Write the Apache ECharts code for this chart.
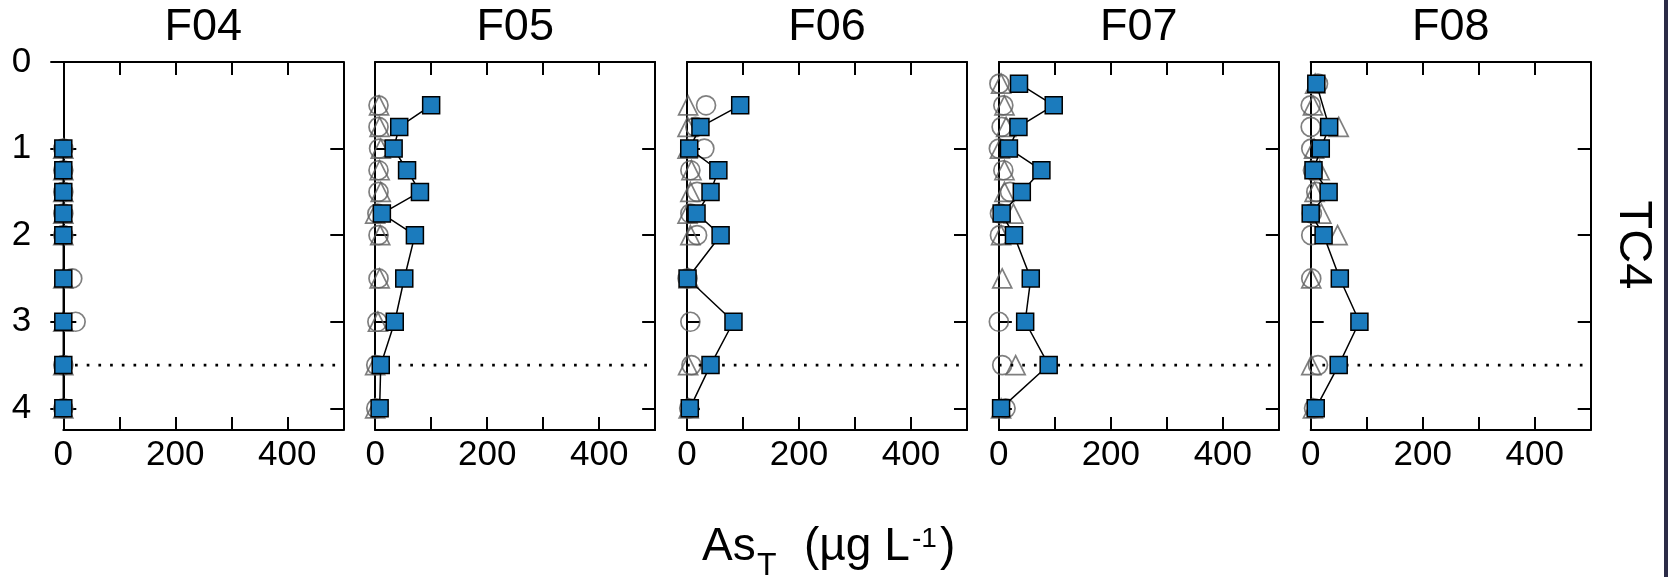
<!DOCTYPE html>
<html><head><meta charset="utf-8">
<script src="https://cdn.jsdelivr.net/npm/echarts@6/dist/echarts.min.js"></script>
<style>html,body{margin:0;padding:0;background:#fff}#c{width:1668px;height:577px}</style>
</head><body><div id="c"></div>
<script>
// ---- data ----
const panels = ['F04', 'F05', 'F06', 'F07', 'F08'];
const depths = [0.25, 0.5, 0.75, 1, 1.25, 1.5, 1.75, 2, 2.5, 3, 3.5, 4];

const squaresF04 = [null, null, null, 0, 0, 0, 0, 0, 0, 0, 0, 0];
const squaresF05 = [null, 100, 43, 33, 57, 80, 12, 71, 52, 35, 10, 8];
const squaresF06 = [null, 95, 24, 4, 56, 42, 17, 60, 1, 83, 42, 5];
const squaresF07 = [36, 98, 35, 18, 76, 41, 5, 27, 57, 47, 89, 4];
const squaresF08 = [10, null, 33, 18, 5, 32, 0, 23, 52, 87, 50, 9];

const circlesF04 = [null, null, null, 0, 0, 0, 0, 0, 16, 22, 0, 0];
const circlesF05 = [null, 6, 6, 7, 6, 6, 4, 6, 6, 4, 2, 2];
const circlesF06 = [null, 34, 15, 31, 6, 18, 6, 18, 1, 6, 8, 4];
const circlesF07 = [1, 8, 5, 0, 8, 20, 2, 2, null, 0, 6, 12];
const circlesF08 = [13, 0, 0, 1, 4, 10, 2, 1, 1, null, 13, 6];

const trianglesF04 = [null, null, null, 0, 0, 0, 0, 0, 0, 0, 0, 0];
const trianglesF05 = [null, 7, 8, 10, 8, 10, 0, 9, 8, 5, 0, 0];
const trianglesF06 = [null, 2, 1, 1, 8, 6, 1, 6, 3, null, 2, 3];
const trianglesF07 = [4, 10, 13, 2, 10, 10, 26, 4, 6, null, 30, 4];
const trianglesF08 = [8, 4, 50, 6, 16, 7, 19, 48, 1, null, 1, 4];

const squares = [squaresF04, squaresF05, squaresF06, squaresF07, squaresF08];
const circles = [circlesF04, circlesF05, circlesF06, circlesF07, circlesF08];
const triangles = [trianglesF04, trianglesF05, trianglesF06, trianglesF07, trianglesF08];

const xTickLabels = [0, 200, 400];
const yTickLabels = [0, 1, 2, 3, 4];
const xMin = 0, xMax = 500, xStep = 100;
const yMin = 0, yMax = 4.25;
const refDepth = 3.5;
const rowLabel = 'TC4';

// ---- layout ----
const FONT = "'Liberation Sans', Arial, Helvetica, sans-serif";
const L0 = 63.3, STEP = 311.85, GW = 280, GT = 62, GH = 368;
const BLUE = '#1b7bbd', GREY = '#5f5f5f';

function pairs(vals) {
  const out = [];
  vals.forEach((v, i) => { if (v !== null) out.push([v, depths[i]]); });
  return out;
}

const grid = [], xAxis = [], yAxis = [], series = [], graphic = [];
const lineBlack = { color: '#000', width: 2 };

panels.forEach((name, i) => {
  const left = L0 + i * STEP;
  grid.push({ left: left, top: GT, width: GW, height: GH, containLabel: false });
  const xBase = {
    gridIndex: i, type: 'value', min: xMin, max: xMax, interval: xStep,
    axisLine: { show: true, onZero: false, lineStyle: lineBlack },
    axisTick: { show: true, inside: true, length: 13, lineStyle: lineBlack },
    splitLine: { show: false }
  };
  xAxis.push(Object.assign({}, xBase, {
    position: 'bottom',
    axisLabel: { show: true, customValues: xTickLabels, fontSize: 35, color: '#000', margin: 8, fontFamily: FONT }
  }));
  xAxis.push(Object.assign({}, xBase, { position: 'top', axisLabel: { show: false } }));
  const yBase = {
    gridIndex: i, type: 'value', inverse: true, min: yMin, max: yMax, interval: 1,
    axisLine: { show: true, onZero: false, lineStyle: lineBlack },
    axisTick: { show: true, inside: true, length: 13, customValues: yTickLabels, lineStyle: lineBlack },
    splitLine: { show: false }
  };
  yAxis.push(Object.assign({}, yBase, {
    position: 'left',
    axisLabel: { show: i === 0, customValues: yTickLabels, fontSize: 35, color: '#000', margin: 32, fontFamily: FONT }
  }));
  yAxis.push(Object.assign({}, yBase, { position: 'right', axisLabel: { show: false } }));

  const xi = 2 * i, yi = 2 * i;
  series.push({
    type: 'scatter', xAxisIndex: xi, yAxisIndex: yi, data: pairs(circles[i]),
    symbol: 'circle', symbolSize: 19, silent: true,
    itemStyle: { color: 'rgba(0,0,0,0)', borderColor: GREY, borderWidth: 1.7 }
  });
  series.push({
    type: 'scatter', xAxisIndex: xi, yAxisIndex: yi, data: pairs(triangles[i]),
    symbol: 'triangle', symbolSize: 19, silent: true,
    itemStyle: { color: 'rgba(0,0,0,0)', borderColor: GREY, borderWidth: 1.7 }
  });
  series.push({
    type: 'line', xAxisIndex: xi, yAxisIndex: yi, data: [[xMin, refDepth], [xMax, refDepth]],
    showSymbol: false, silent: true,
    lineStyle: { color: '#000', width: 2.7, type: [2.7, 9], cap: 'butt' }
  });
  series.push({
    type: 'line', xAxisIndex: xi, yAxisIndex: yi, data: pairs(squares[i]),
    symbol: 'rect', symbolSize: 17, showSymbol: true, showAllSymbol: true, silent: true,
    lineStyle: { color: '#000', width: 1.5 },
    itemStyle: { color: BLUE, borderColor: '#000', borderWidth: 1.5 }
  });

  graphic.push({
    type: 'text', x: left + GW / 2, y: 28, silent: true,
    style: { text: name, font: '45px ' + FONT, fill: '#000', align: 'center', verticalAlign: 'middle' }
  });
});

// extra outward ticks on the first panel's left axis
yAxis.push({
  gridIndex: 0, type: 'value', inverse: true, min: yMin, max: yMax, interval: 1, position: 'left',
  axisLine: { show: false },
  axisTick: { show: true, inside: false, length: 13, customValues: yTickLabels, lineStyle: lineBlack },
  axisLabel: { show: false }, splitLine: { show: false }
});

graphic.push({
  type: 'text', x: 1633, y: GT + GH / 2 - 1, rotation: -Math.PI / 2, silent: true,
  style: { text: rowLabel, font: '47px ' + FONT, fill: '#000', align: 'center', verticalAlign: 'middle' }
});
// x-axis title: As_T (µg L^-1)
graphic.push({ type: 'text', x: 702, y: 547, silent: true,
  style: { text: 'As', font: '46px ' + FONT, fill: '#000', align: 'left', verticalAlign: 'middle' } });
graphic.push({ type: 'text', x: 757, y: 566, silent: true,
  style: { text: 'T', font: '32px ' + FONT, fill: '#000', align: 'left', verticalAlign: 'middle' } });
graphic.push({ type: 'text', x: 804, y: 547, silent: true,
  style: { text: '(µg L', font: '46px ' + FONT, fill: '#000', align: 'left', verticalAlign: 'middle' } });
graphic.push({ type: 'text', x: 912, y: 539, silent: true,
  style: { text: '-1', font: '28px ' + FONT, fill: '#000', align: 'left', verticalAlign: 'middle' } });
graphic.push({ type: 'text', x: 940, y: 547, silent: true,
  style: { text: ')', font: '46px ' + FONT, fill: '#000', align: 'left', verticalAlign: 'middle' } });
// dark frame edge at right
graphic.push({ type: 'rect', shape: { x: 1664, y: 0, width: 4, height: 577 }, silent: true,
  style: { fill: '#2b2b47' } });

const chart = echarts.init(document.getElementById('c'), null, { renderer: 'canvas' });
chart.setOption({
  animation: false,
  backgroundColor: '#ffffff',
  textStyle: { fontFamily: FONT },
  grid, xAxis, yAxis, series, graphic
});
</script></body></html>
